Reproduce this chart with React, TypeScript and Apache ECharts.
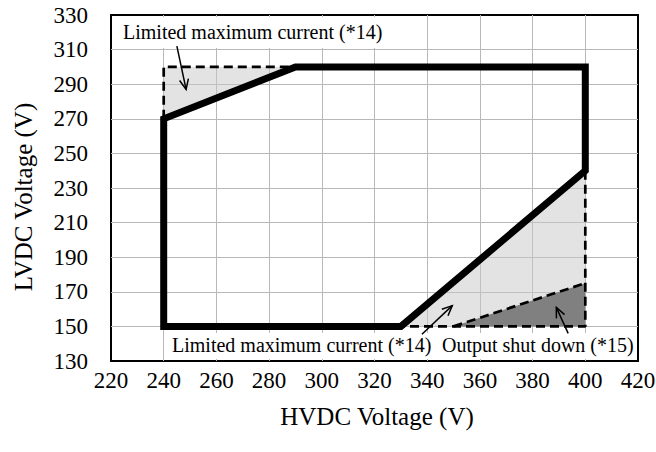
import React, { useEffect, useRef } from "react";
import * as echarts from "echarts";

// Axis ticks
const xTicks = [220, 240, 260, 280, 300, 320, 340, 360, 380, 400, 420];
const yTicks = [130, 150, 170, 190, 210, 230, 250, 270, 290, 310, 330];

// Operating envelope (HVDC V, LVDC V)
const envelope = [
  [240, 150],
  [240, 270],
  [290, 300],
  [400, 300],
  [400, 240],
  [330, 150],
  [240, 150],
];

// Shaded regions
const upperLimitedFill = [
  [240, 270],
  [240, 300],
  [290, 300],
];
const lowerLimitedFill = [
  [330, 150],
  [400, 240],
  [400, 150],
];
const shutdownFill = [
  [350, 150],
  [400, 175],
  [400, 150],
];

// Dashed boundaries
const upperDashed = [
  [240, 270],
  [240, 300],
  [290, 300],
];
const lowerDashed = [
  [400, 240],
  [400, 150],
  [330, 150],
];
const shutdownDashed = [
  [350, 150],
  [400, 175],
];

// Annotation arrows: [fromX, fromY, toX, toY]
const arrows = [
  [245, 312, 248.5, 287],
  [338, 145.5, 349.5, 162],
  [393.5, 146, 389, 161],
];

const xTitle = "HVDC Voltage (V)";
const yTitle = "LVDC Voltage (V)";
const labelTop = "Limited maximum current (*14)";
const labelBottomLeft = "Limited maximum current (*14)";
const labelBottomRight = "Output shut down (*15)";

export default function App() {
  const ref = useRef<HTMLDivElement>(null);

  useEffect(() => {
    document.body.style.margin = "0";
    const chart = echarts.init(ref.current!, null, { renderer: "svg" });
    const font = '"Liberation Serif", "Times New Roman", serif';

    const fills = [
      { pts: upperLimitedFill, color: "rgba(200,200,200,0.5)" },
      { pts: lowerLimitedFill, color: "rgba(200,200,200,0.5)" },
      { pts: shutdownFill, color: "#808080" },
    ];

    const dashStyle = { color: "#000", width: 2.7, type: [9, 5] as any };

    const option: any = {
      animation: false,
      backgroundColor: "#fff",
      grid: {
        left: 111,
        right: 18,
        top: 15,
        bottom: 91,
        show: true,
        borderColor: "#000",
        borderWidth: 2,
        backgroundColor: "transparent",
        containLabel: false,
        outerBoundsMode: "none",
      },
      xAxis: {
        type: "value",
        min: 220,
        max: 420,
        interval: 20,
        name: xTitle,
        nameLocation: "middle",
        nameGap: 43,
        nameTextStyle: {
          fontFamily: font,
          fontSize: 25,
          color: "#000",
          padding: [0, 0, 0, 5],
        },
        axisLine: { show: false },
        axisTick: { show: false, customValues: xTicks },
        axisLabel: {
          customValues: xTicks,
          fontFamily: font,
          fontSize: 23,
          color: "#000",
          margin: 8,
        },
        splitLine: {
          show: true,
          showMinLine: false,
          showMaxLine: false,
          lineStyle: { color: "#b8b8b8", width: 1 },
        },
      },
      yAxis: {
        type: "value",
        min: 130,
        max: 330,
        interval: 20,
        axisLine: { show: false },
        axisTick: { show: false, customValues: yTicks },
        axisLabel: {
          customValues: yTicks,
          fontFamily: font,
          fontSize: 23,
          color: "#000",
          margin: 23,
        },
        splitLine: {
          show: true,
          showMinLine: false,
          showMaxLine: false,
          lineStyle: { color: "#b8b8b8", width: 1 },
        },
      },
      series: [
        {
          type: "custom",
          z: 2,
          data: fills.map((f) => f.pts[0]),
          renderItem: (params: any, api: any) => {
            const f = fills[params.dataIndex];
            return {
              type: "polygon",
              shape: { points: f.pts.map((p) => api.coord(p)) },
              style: { fill: f.color, stroke: "none" },
            };
          },
          silent: true,
        },
        {
          type: "line",
          z: 3,
          data: upperDashed,
          symbol: "none",
          lineStyle: dashStyle,
          silent: true,
        },
        {
          type: "line",
          z: 3,
          data: lowerDashed,
          symbol: "none",
          lineStyle: dashStyle,
          silent: true,
        },
        {
          type: "line",
          z: 3,
          data: shutdownDashed,
          symbol: "none",
          lineStyle: dashStyle,
          silent: true,
        },
        {
          type: "line",
          z: 4,
          data: envelope,
          symbol: "none",
          lineStyle: { color: "#000", width: 7, join: "miter", cap: "square" },
          silent: true,
        },
        {
          type: "custom",
          z: 5,
          data: arrows,
          encode: { x: [0, 2], y: [1, 3] },
          renderItem: (params: any, api: any) => {
            const s = api.coord([api.value(0), api.value(1)]);
            const e = api.coord([api.value(2), api.value(3)]);
            const a = Math.atan2(e[1] - s[1], e[0] - s[0]);
            const L = 11;
            const sp = 0.42;
            const p1 = [e[0] - L * Math.cos(a - sp), e[1] - L * Math.sin(a - sp)];
            const p2 = [e[0] - L * Math.cos(a + sp), e[1] - L * Math.sin(a + sp)];
            return {
              type: "group",
              children: [
                {
                  type: "line",
                  shape: { x1: s[0], y1: s[1], x2: e[0], y2: e[1] },
                  style: { stroke: "#000", lineWidth: 1.5 },
                },
                {
                  type: "polyline",
                  shape: { points: [p1, e, p2] },
                  style: { stroke: "#000", fill: null, lineWidth: 1.5 },
                },
              ],
            };
          },
          silent: true,
        },
      ],
      graphic: [
        {
          type: "text",
          z: 6,
          x: 23,
          y: 197,
          rotation: Math.PI / 2,
          style: {
            text: yTitle,
            font: `25px ${font}`,
            fill: "#000",
            verticalAlign: "middle",
            align: "center",
          },
          silent: true,
        },
        {
          type: "rect",
          z: 1,
          shape: { x: 113, y: 17, width: 285, height: 31 },
          style: { fill: "#fff" },
          silent: true,
        },
        {
          type: "text",
          z: 6,
          x: 123,
          y: 32,
          style: {
            text: labelTop,
            font: `20px ${font}`,
            fill: "#000",
            verticalAlign: "middle",
            align: "left",
          },
          silent: true,
        },
        {
          type: "rect",
          z: 1,
          shape: { x: 168, y: 333, width: 468, height: 26 },
          style: { fill: "#fff" },
          silent: true,
        },
        {
          type: "text",
          z: 6,
          x: 172,
          y: 345,
          style: {
            text: labelBottomLeft,
            font: `20px ${font}`,
            fill: "#000",
            verticalAlign: "middle",
            align: "left",
          },
          silent: true,
        },
        {
          type: "text",
          z: 6,
          x: 442,
          y: 345,
          style: {
            text: labelBottomRight,
            font: `20px ${font}`,
            fill: "#000",
            verticalAlign: "middle",
            align: "left",
          },
          silent: true,
        },
      ],
    };

    chart.setOption(option);
    return () => chart.dispose();
  }, []);

  return (
    <div
      ref={ref}
      style={{ position: "absolute", left: 0, top: 0, width: 656, height: 452 }}
    />
  );
}
